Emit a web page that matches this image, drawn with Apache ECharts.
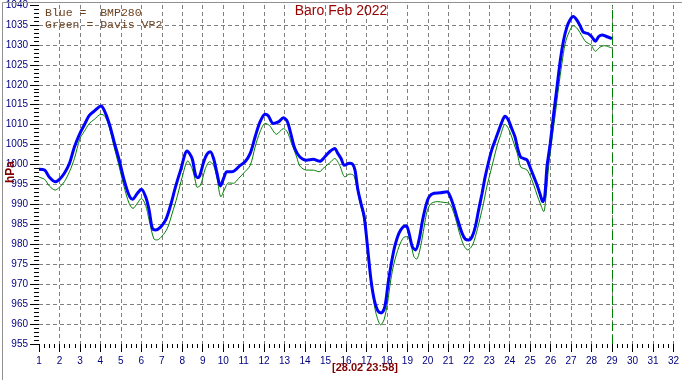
<!DOCTYPE html>
<html>
<head>
<meta charset="utf-8">
<script src="https://cdn.jsdelivr.net/npm/echarts@6/dist/echarts.min.js"></script>
<style>
html,body{margin:0;padding:0;background:#fff;}
#chart{width:682px;height:380px;}
</style>
</head>
<body>
<div id="chart"></div>
<script>
// ---- data (day of month, hPa) ----
const chartTitle = 'Baro Feb 2022';
const legendLines = ['Blue =  BMP280', 'Green = Davis VP2'];
const yAxisName = 'hPa';
const timeStamp = '[28.02 23:58]';
const markerDay = 29;
const xTicks = [1, 32, 1];          // min, max, interval
const yTicks = [955, 1040, 5];      // min, max, interval

const blueData = [
[1.0,998.8],[1.27,998.6],[1.51,996.8],[1.79,995.7],[2.0,996.3],[2.24,997.8],[2.49,1000.3],[2.73,1004.4],
[3.0,1007.8],[3.2,1009.8],[3.46,1012.3],[3.7,1013.4],[4.03,1014.7],[4.19,1013.6],[4.43,1010.3],[4.67,1005.7],
[4.92,1001.1],[5.16,996.1],[5.4,992.3],[5.57,991.3],[5.81,992.8],[6.0,993.8],[6.21,991.9],[6.38,988.6],
[6.54,984.0],[6.7,983.6],[6.94,984.3],[7.19,986.1],[7.43,989.8],[7.67,994.4],[7.92,998.6],[8.24,1003.4],
[8.48,1001.5],[8.65,997.3],[8.76,996.7],[8.85,997.1],[9.05,1000.7],[9.21,1002.6],[9.37,1003.2],[9.53,1001.5],
[9.7,997.8],[9.86,994.6],[10.02,996.5],[10.18,998.2],[10.43,998.2],[10.59,998.6],[10.83,999.8],[11.07,1000.7],
[11.32,1002.8],[11.56,1006.9],[11.8,1010.7],[12.05,1012.6],[12.2,1012.2],[12.45,1010.3],[12.7,1010.7],[12.94,1011.7],
[13.13,1010.8],[13.3,1007.8],[13.5,1004.0],[13.75,1001.9],[14.07,1001.1],[14.4,1001.3],[14.72,1000.8],[14.96,1001.9],
[15.2,1003.2],[15.45,1004.0],[15.6,1002.8],[15.76,1001.5],[15.92,999.8],[16.16,1000.3],[16.32,1000.1],[16.44,998.6],
[16.57,994.0],[16.73,990.3],[16.89,986.9],[17.05,979.4],[17.22,971.1],[17.38,966.1],[17.57,963.2],[17.73,962.8],
[17.9,964.4],[18.06,970.3],[18.22,975.3],[18.38,979.4],[18.59,982.8],[18.8,984.4],[18.95,984.6],[19.08,982.8],
[19.24,979.4],[19.4,978.6],[19.57,981.1],[19.73,985.7],[19.89,989.4],[20.05,991.8],[20.3,992.8],[20.62,992.9],
[20.94,993.2],[21.1,991.9],[21.27,989.4],[21.46,986.1],[21.67,982.8],[21.83,981.3],[22.0,981.1],[22.16,981.9],
[22.32,984.4],[22.48,988.6],[22.65,992.8],[22.8,996.9],[22.97,1000.7],[23.13,1003.8],[23.32,1006.5],[23.48,1008.8],
[23.65,1011.1],[23.77,1012.1],[23.94,1011.1],[24.1,1009.0],[24.26,1006.9],[24.37,1004.4],[24.53,1001.9],[24.69,1001.5],
[24.85,1001.1],[25.02,999.0],[25.18,996.9],[25.34,994.8],[25.5,992.3],[25.61,990.7],[25.71,991.9],[25.82,999.4],
[25.98,1005.3],[26.15,1012.8],[26.31,1019.4],[26.47,1026.1],[26.63,1031.1],[26.79,1034.4],[26.95,1036.3],[27.11,1037.1],
[27.27,1036.3],[27.44,1034.8],[27.6,1033.2],[27.84,1032.8],[28.0,1032.1],[28.19,1030.9],[28.35,1032.1],[28.52,1032.5],
[28.73,1032.1],[28.94,1031.7],[29.0,1031.5]
];

const greenData = [
[1.0,996.8],[1.27,996.3],[1.51,994.6],[1.79,993.6],[2.0,994.3],[2.24,995.7],[2.49,998.2],[2.73,1001.5],
[3.0,1006.5],[3.2,1008.2],[3.46,1010.3],[3.7,1011.3],[4.03,1012.6],[4.22,1012.1],[4.43,1009.4],[4.67,1004.4],
[4.92,999.4],[5.16,994.4],[5.4,990.3],[5.59,989.0],[5.81,990.3],[6.0,991.5],[6.21,989.8],[6.38,986.1],
[6.62,981.3],[6.78,981.1],[7.02,982.1],[7.27,984.0],[7.51,987.8],[7.75,991.9],[8.0,996.9],[8.27,1000.9],
[8.48,999.0],[8.65,995.7],[8.72,994.3],[8.89,994.8],[9.13,999.0],[9.34,1000.7],[9.53,999.8],[9.7,996.5],
[9.89,991.9],[10.05,993.6],[10.26,995.4],[10.5,995.3],[10.75,996.5],[10.99,997.8],[11.32,999.8],[11.56,1004.4],
[11.8,1008.2],[12.05,1010.3],[12.26,1009.8],[12.61,1007.6],[12.94,1009.0],[13.13,1008.2],[13.34,1005.3],[13.59,1001.9],
[13.75,999.6],[14.07,998.6],[14.4,998.6],[14.69,998.2],[14.96,999.4],[15.2,1000.4],[15.45,1001.5],[15.69,999.8],
[15.95,996.9],[16.16,997.6],[16.37,997.3],[16.49,995.3],[16.65,991.1],[16.81,987.8],[16.97,983.6],[17.13,974.4],
[17.3,967.8],[17.46,962.8],[17.7,959.8],[17.86,961.1],[18.03,965.3],[18.19,971.1],[18.35,975.3],[18.59,979.4],
[18.84,981.8],[19.0,981.9],[19.16,980.3],[19.32,976.9],[19.45,976.3],[19.61,978.6],[19.78,983.2],[19.94,987.8],
[20.13,990.1],[20.46,990.7],[20.78,990.5],[21.02,990.3],[21.19,989.0],[21.35,986.5],[21.6,981.9],[21.79,979.4],
[21.95,978.6],[22.16,979.6],[22.32,981.9],[22.53,986.1],[22.72,990.3],[22.88,994.4],[23.08,998.5],[23.24,1001.8],
[23.4,1005.0],[23.55,1007.3],[23.77,1010.1],[23.94,1009.0],[24.1,1006.9],[24.26,1004.4],[24.37,1002.8],[24.53,999.4],
[24.69,999.0],[24.85,998.6],[25.02,996.9],[25.18,994.8],[25.34,992.3],[25.5,990.1],[25.66,988.2],[25.77,991.9],
[25.9,999.4],[26.06,1006.1],[26.23,1012.8],[26.39,1019.4],[26.55,1025.3],[26.71,1030.3],[26.9,1033.2],[27.11,1034.8],
[27.32,1034.0],[27.52,1032.3],[27.73,1030.7],[27.97,1030.0],[28.19,1028.4],[28.4,1029.4],[28.65,1029.8],[28.89,1029.4],
[29.0,1029.2]
];

// ---- chart ----
const chart = echarts.init(document.getElementById('chart'), null, {renderer: 'canvas'});
const labelFont = '"Liberation Sans Narrow", "Liberation Sans", Arial, sans-serif';

chart.setOption({
  animation: false,
  backgroundColor: '#ffffff',
  title: {
    text: chartTitle,
    left: 'center',
    top: 4,
    padding: 0,
    textStyle: {color: '#990000', fontSize: 14, fontWeight: 'normal', fontFamily: '"Liberation Sans", Arial, sans-serif'}
  },
  grid: {left: 39, right: 5, top: 4, bottom: 36, containLabel: false},
  xAxis: {
    type: 'value', min: xTicks[0], max: xTicks[1], interval: xTicks[2],
    axisLine: {show: false},
    axisTick: {show: true, length: 8, lineStyle: {color: '#000000', width: 1}},
    minorTick: {show: true, splitNumber: 4, length: 4, lineStyle: {color: '#000000', width: 1}},
    axisLabel: {color: '#000080', fontSize: 10, fontFamily: labelFont, margin: 12, formatter: v => String(v)},
    splitLine: {show: true, showMinLine: false, showMaxLine: true, lineStyle: {color: '#808080', width: 1, type: [4, 3]}}
  },
  yAxis: {
    type: 'value', min: yTicks[0], max: yTicks[1], interval: yTicks[2],
    axisLine: {show: false},
    axisTick: {show: true, length: 9, lineStyle: {color: '#000000', width: 1}},
    minorTick: {show: true, splitNumber: 5, length: 5, lineStyle: {color: '#000000', width: 1}},
    axisLabel: {color: '#000080', fontSize: 10, fontFamily: labelFont, margin: 11, formatter: v => String(v)},
    splitLine: {show: true, showMinLine: false, showMaxLine: false, lineStyle: {color: '#808080', width: 1, type: [4, 3]}}
  },
  series: [
    {
      name: 'Davis VP2', type: 'line', data: greenData, showSymbol: false, smooth: 0.3,
      lineStyle: {color: '#008000', width: 1}, itemStyle: {color: '#008000'}, z: 2,
      markLine: {
        silent: true, symbol: ['none', 'none'], label: {show: false},
        lineStyle: {color: '#008000', width: 1, type: [9, 4]},
        data: [{xAxis: markerDay}]
      }
    },
    {
      name: 'BMP280', type: 'line', data: blueData, showSymbol: false, smooth: 0.3,
      lineStyle: {color: '#0000ff', width: 3}, itemStyle: {color: '#0000ff'}, z: 3
    }
  ],
  graphic: [
    {type: 'rect', left: 0, top: 0, z: 100, silent: true,
     shape: {x: 0.5, y: 0.5, width: 681, height: 379},
     style: {fill: 'none', stroke: '#909090', lineWidth: 1}},
    {type: 'text', x: 45, y: 13, z: 100, silent: true,
     style: {text: legendLines[0], fill: '#6b4423', font: '11.5px "Liberation Mono", "Courier New", monospace', verticalAlign: 'middle'}},
    {type: 'text', x: 45, y: 25, z: 100, silent: true,
     style: {text: legendLines[1], fill: '#6b4423', font: '11.5px "Liberation Mono", "Courier New", monospace', verticalAlign: 'middle'}},
    {type: 'text', x: 11, y: 172, rotation: Math.PI / 2, z: 100, silent: true,
     style: {text: yAxisName, fill: '#800000', font: 'bold 12px "Liberation Sans", Arial, sans-serif', align: 'center', verticalAlign: 'middle'}},
    {type: 'text', x: 365, y: 368, z: 100, silent: true,
     style: {text: timeStamp, fill: '#800000', font: 'bold 11px "Liberation Sans", Arial, sans-serif', align: 'center', verticalAlign: 'middle'}}
  ]
});
</script>
</body>
</html>
